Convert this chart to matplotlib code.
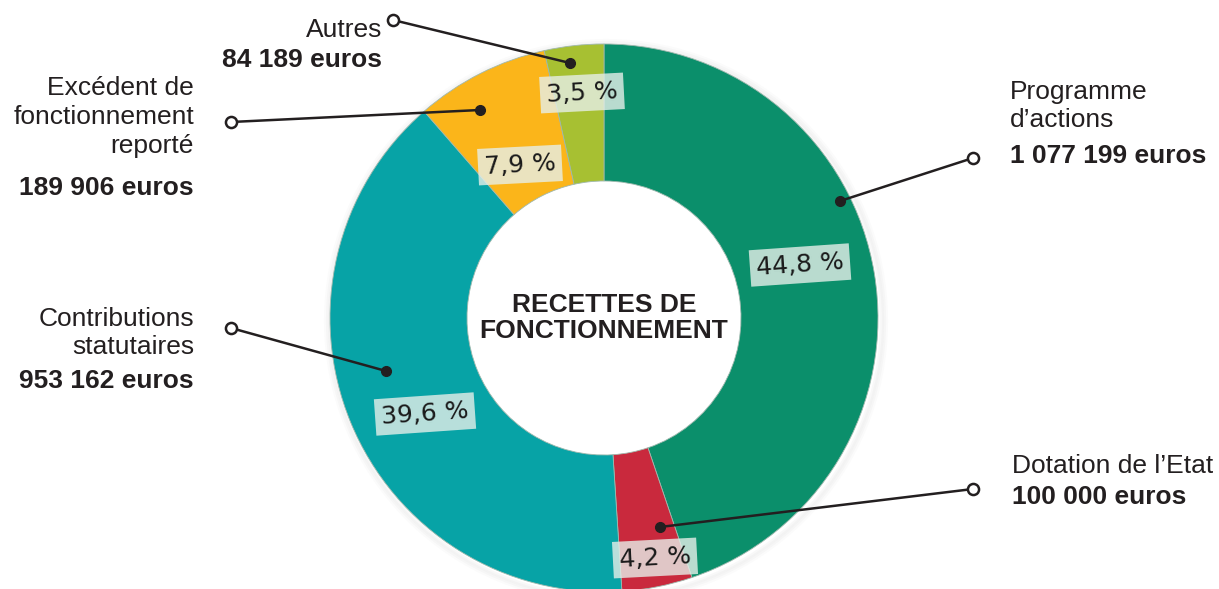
import matplotlib.pyplot as plt
from matplotlib.patches import Circle

W, H = 1219, 589

# donnees
categories = ["Programme d'actions", "Dotation de l'Etat", "Contributions statutaires",
              "Excédent de fonctionnement reporté", "Autres"]
montants = [1077199, 100000, 953162, 189906, 84189]
couleurs = ["#0b8f6b", "#c9293d", "#07a3a6", "#fbb51a", "#a7c032"]

total = sum(montants)
pourcents = [f"{m / total * 100:.1f} %".replace(".", ",") for m in montants]

def euros(v):
    return f"{v:,}".replace(",", " ") + " euros"

fig = plt.figure(figsize=(W / 100, H / 100), dpi=100)
ax = fig.add_axes([0, 0, 1, 1])

cx, cy, R = 604, H - 318, 274

# petite ombre autour de l'anneau
for i, a in enumerate([0.05, 0.04, 0.03]):
    ax.add_patch(Circle((cx + 2, cy - 3), R + 2 + 2 * i, fc="none", ec="gray", lw=3, alpha=a, zorder=0))

ax.pie(montants, colors=couleurs, startangle=90, counterclock=False,
       radius=R, center=(cx, cy),
       wedgeprops=dict(width=137, edgecolor="#9fb8ad", linewidth=0.6))
ax.set_xlim(0, W)
ax.set_ylim(0, H)
ax.set_aspect("equal")
ax.axis("off")

ax.text(cx, cy, "RECETTES DE\nFONCTIONNEMENT", ha="center", va="center",
        fontsize=19, fontweight="bold", family="Liberation Sans",
        color="#231f20", linespacing=1.1)

# etiquettes pourcentage (pos x, y en pixels, rotation)
pos_pct = [(800, 265, 4), (655, 558, 3), (425, 414, 4), (520, 165, 3), (582, 93, 3)]
for (x, y, rot), t in zip(pos_pct, pourcents):
    ax.text(x, H - y, t, ha="center", va="center", fontsize=18, rotation=rot,
            color="#1a1a1a", family="DejaVu Sans",
            bbox=dict(boxstyle="square,pad=0.25", fc="#e6efe9", ec="none", alpha=0.8))

# lignes de rappel : (cercle ouvert) -> (point plein)
lignes = [((973, 158), (840, 201)),
          ((973, 489), (660, 527)),
          ((231, 328), (386, 371)),
          ((231, 122), (480, 110)),
          ((393, 20), (570, 63))]
for (x0, y0), (x1, y1) in lignes:
    ax.plot([x0, x1], [H - y0, H - y1], color="#231f20", lw=1.8, zorder=5)
    ax.plot(x1, H - y1, "o", ms=7, color="#231f20", zorder=6)
    ax.plot(x0, H - y0, "o", ms=8, mfc="white", mec="#231f20", mew=1.8, zorder=6)

txt = dict(fontsize=19, family="Liberation Sans", color="#231f20")
# droite
ax.text(1010, H - 106, "Programme\nd’actions", ha="left", va="center", linespacing=1.25, **txt)
ax.text(1010, H - 156, euros(montants[0]), ha="left", va="center", fontweight="bold", **txt)
ax.text(1012, H - 466, "Dotation de l’Etat", ha="left", va="center", **txt)
ax.text(1012, H - 497, euros(montants[1]), ha="left", va="center", fontweight="bold", **txt)
# gauche
ax.text(194, H - 333, "Contributions\nstatutaires", ha="right", va="center", linespacing=1.25, **txt)
ax.text(194, H - 381, euros(montants[2]), ha="right", va="center", fontweight="bold", **txt)
ax.text(194, H - 117, "Excédent de\nfonctionnement\nreporté", ha="right", va="center", linespacing=1.25, **txt)
ax.text(194, H - 188, euros(montants[3]), ha="right", va="center", fontweight="bold", **txt)
ax.text(382, H - 30, "Autres", ha="right", va="center", **txt)
ax.text(382, H - 60, euros(montants[4]), ha="right", va="center", fontweight="bold", **txt)

fig.savefig("out.png", dpi=100)
